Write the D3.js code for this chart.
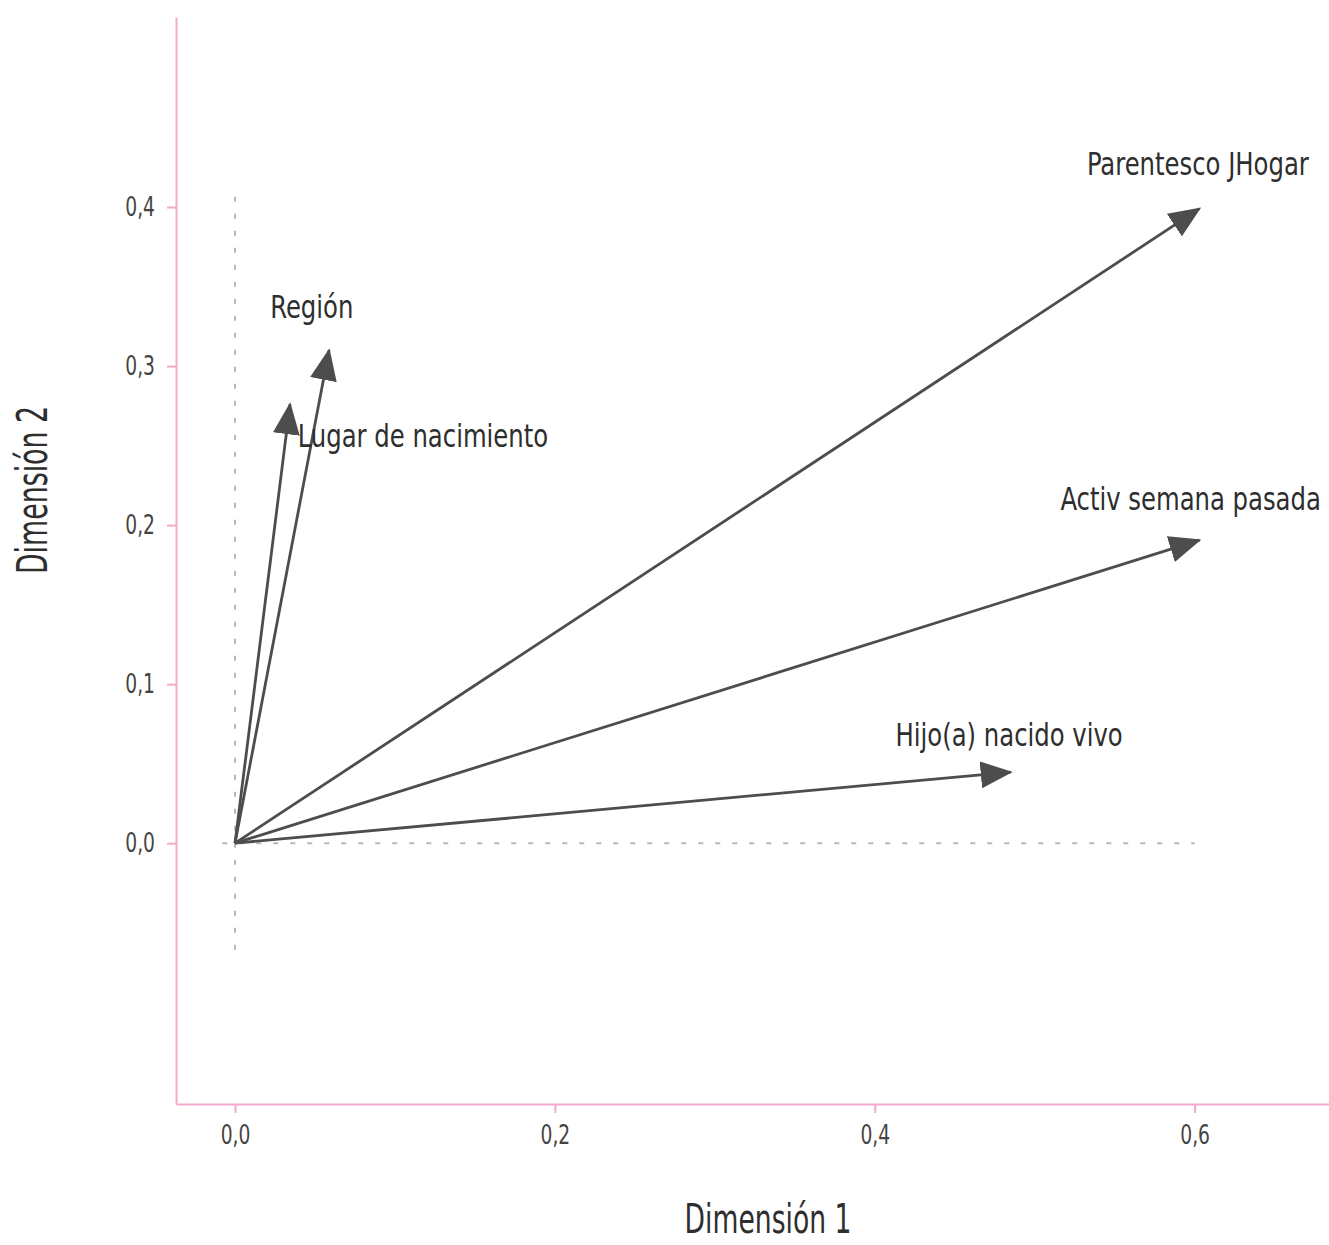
<!DOCTYPE html>
<html>
<head>
<meta charset="utf-8">
<script src="https://cdn.jsdelivr.net/npm/d3@7"></script>
<style>
  body { margin: 0; background: #fff; }
  svg { display: block; font-family: "DejaVu Sans Condensed", "DejaVu Sans", "Roboto", sans-serif; }
</style>
</head>
<body>
<svg id="chart" width="1329" height="1245"></svg>
<script>
// Variables (arrows) of the factorial map
const variables = ["Parentesco JHogar", "Activ semana pasada", "Hijo(a) nacido vivo", "Región", "Lugar de nacimiento"];
const dim1 = [0.603, 0.603, 0.485, 0.0588, 0.0344];
const dim2 = [0.399, 0.1906, 0.0447, 0.310, 0.276];
// label positions (repelled) in data units
const labelDim1 = [0.602, 0.5975, 0.484, 0.048, 0.1175];
const labelDim2 = [0.427, 0.2164, 0.0679, 0.337, 0.256];

const xTicks = [0.0, 0.2, 0.4, 0.6];
const yTicks = [0.0, 0.1, 0.2, 0.3, 0.4];
const xDomain = [-0.0369, 0.684];
const yDomain = [-0.164, 0.5195];
// reference dashed lines extents
const hLineX = [-0.008, 0.6];
const vLineY = [-0.067, 0.41];

const svg = d3.select("#chart");
const pLeft = 176, pRight = 1329, pTop = 17, pBottom = 1104;
const x = d3.scaleLinear().domain(xDomain).range([pLeft, pRight]);
const y = d3.scaleLinear().domain(yDomain).range([pBottom, pTop]);

const pink = "#f4a9cd";
const fmt = d => d3.format(".1f")(d).replace(".", ",");

// condensed look: horizontally squeeze text around its anchor
function squeeze(sel, sx) {
  sel.each(function () {
    const t = d3.select(this);
    const tx = +t.attr("x") || 0, ty = +t.attr("y") || 0;
    const prev = t.attr("transform") || "";
    t.attr("x", 0).attr("y", 0)
      .attr("transform", `${prev} translate(${tx},${ty}) scale(${sx},1)`);
  });
}

// dashed reference lines
svg.append("line")
  .attr("x1", x(hLineX[0])).attr("x2", x(hLineX[1]))
  .attr("y1", y(0)).attr("y2", y(0))
  .attr("stroke", "#b8b8b8").attr("stroke-width", 2).attr("stroke-dasharray", "5,12");
svg.append("line")
  .attr("x1", x(0)).attr("x2", x(0))
  .attr("y1", y(vLineY[0])).attr("y2", y(vLineY[1]))
  .attr("stroke", "#b8b8b8").attr("stroke-width", 2).attr("stroke-dasharray", "5,12");

// axes
const xAxis = svg.append("g").attr("transform", `translate(0,${pBottom})`)
  .call(d3.axisBottom(x).tickValues(xTicks).tickFormat(fmt).tickSize(9).tickSizeOuter(0).tickPadding(13));
const yAxis = svg.append("g").attr("transform", `translate(${pLeft},0)`)
  .call(d3.axisLeft(y).tickValues(yTicks).tickFormat(fmt).tickSize(9).tickSizeOuter(0).tickPadding(12));
[xAxis, yAxis].forEach(g => {
  g.select(".domain").attr("stroke", pink).attr("stroke-width", 2);
  g.selectAll(".tick line").attr("stroke", pink).attr("stroke-width", 2);
  g.selectAll(".tick text").attr("fill", "#444444").attr("font-size", 26)
    .attr("font-family", "\"DejaVu Sans Condensed\", \"DejaVu Sans\", sans-serif");
  squeeze(g.selectAll(".tick text"), 0.8);
});

// arrow marker
const defs = svg.append("defs");
defs.append("marker")
  .attr("id", "arrow")
  .attr("viewBox", "0 0 32 27")
  .attr("refX", 30).attr("refY", 13.5)
  .attr("markerWidth", 32).attr("markerHeight", 27)
  .attr("markerUnits", "userSpaceOnUse")
  .attr("orient", "auto")
  .append("path")
  .attr("d", "M0,0 L32,13.5 L0,27 Z")
  .attr("fill", "#4d4d4d");

const data = variables.map((v, i) => ({ name: v, d1: dim1[i], d2: dim2[i], lx: labelDim1[i], ly: labelDim2[i] }));

svg.append("g").selectAll("line.arrow").data(data).join("line")
  .attr("class", "arrow")
  .attr("x1", x(0)).attr("y1", y(0))
  .attr("x2", d => x(d.d1)).attr("y2", d => y(d.d2))
  .attr("stroke", "#4d4d4d").attr("stroke-width", 2.8)
  .attr("marker-end", "url(#arrow)");

const labs = svg.append("g").selectAll("text.lab").data(data).join("text")
  .attr("class", "lab")
  .attr("x", d => x(d.lx)).attr("y", d => y(d.ly))
  .attr("text-anchor", "middle").attr("dominant-baseline", "central")
  .attr("font-size", 32).attr("fill", "#2e2e2e")
  .text(d => d.name);
squeeze(labs, 0.845);

// axis titles
const xt = svg.append("text")
  .attr("x", 768).attr("y", 1219)
  .attr("text-anchor", "middle").attr("dominant-baseline", "central")
  .attr("font-size", 40).attr("fill", "#2e2e2e")
  .text("Dimensión 1");
squeeze(xt, 0.74);
const yt = svg.append("text")
  .attr("transform", `translate(33,490) rotate(-90)`)
  .attr("text-anchor", "middle").attr("dominant-baseline", "central")
  .attr("font-size", 42).attr("fill", "#2e2e2e")
  .text("Dimensión 2");
squeeze(yt, 0.71);
</script>
</body>
</html>
